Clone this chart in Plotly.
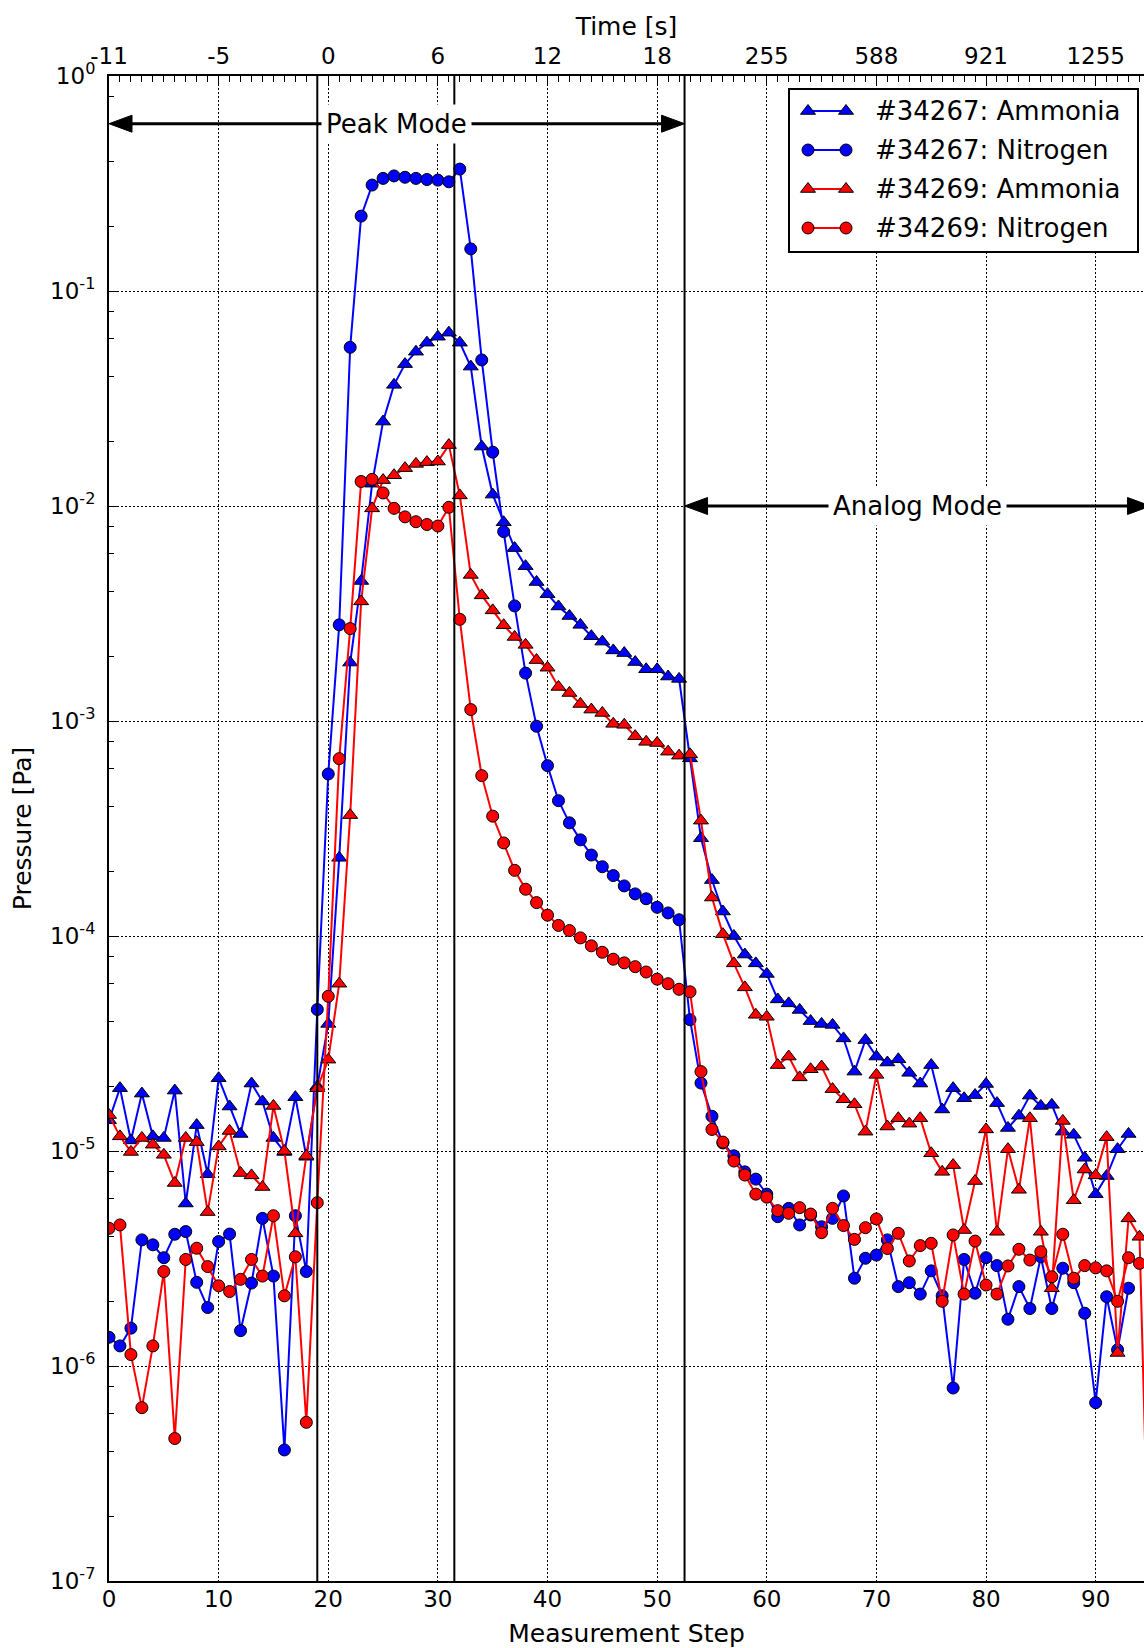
import numpy as np
import plotly.graph_objects as go

# ---------------------------------------------------------------------------
# Data: partial pressures per measurement step (Pa)
# ---------------------------------------------------------------------------
steps_34267 = list(range(0, 94))
steps_34269_nh3 = list(range(0, 96))
steps_34269_n2 = list(range(0, 95))

ammonia_34267 = [
    1.39e-5, 1.96e-5, 1.12e-5, 1.85e-5, 1.17e-5, 1.15e-5, 1.91e-5, 5.7e-6, 1.32e-5, 7.8e-6,
    2.18e-5, 1.61e-5, 1.2e-5, 2.06e-5, 1.70e-5, 1.15e-5, 9.9e-6, 1.78e-5, 9.4e-6, 2.0e-5,
    3.9e-5, 2.31e-4, 1.87e-3, 4.48e-3, 1.27e-2, 2.47e-2, 3.66e-2, 4.57e-2, 5.22e-2, 5.75e-2,
    6.13e-2, 6.40e-2, 5.75e-2, 4.45e-2, 1.89e-2, 1.13e-2, 8.4e-3, 6.37e-3, 5.25e-3, 4.43e-3,
    3.89e-3, 3.41e-3, 3.08e-3, 2.80e-3, 2.48e-3, 2.34e-3, 2.13e-3, 2.07e-3, 1.88e-3, 1.74e-3,
    1.74e-3, 1.61e-3, 1.57e-3, 6.7e-4, 2.85e-4, 1.82e-4, 1.30e-4, 1.0e-4, 8.2e-5, 7.46e-5,
    6.66e-5, 5.07e-5, 4.86e-5, 4.53e-5, 4.02e-5, 3.90e-5, 3.86e-5, 3.34e-5, 2.34e-5, 3.28e-5,
    2.75e-5, 2.58e-5, 2.67e-5, 2.31e-5, 2.06e-5, 2.51e-5, 1.56e-5, 1.96e-5, 1.76e-5, 1.82e-5,
    2.05e-5, 1.67e-5, 1.28e-5, 1.46e-5, 1.81e-5, 1.62e-5, 1.64e-5, 1.23e-5, 1.19e-5, 9.3e-6,
    6.3e-6, 7.65e-6, 1.02e-5, 1.20e-5,
]

nitrogen_34267 = [
    1.36e-6, 1.24e-6, 1.50e-6, 3.86e-6, 3.66e-6, 3.19e-6, 4.10e-6, 4.22e-6, 2.45e-6, 1.87e-6,
    3.79e-6, 4.11e-6, 1.46e-6, 2.43e-6, 4.86e-6, 2.62e-6, 4.07e-7, 5.0e-6, 2.75e-6, 4.55e-5,
    5.67e-4, 2.80e-3, 5.47e-2, 0.223, 0.311, 0.334, 0.343, 0.338, 0.334, 0.330,
    0.328, 0.322, 0.369, 0.157, 4.78e-2, 1.78e-2, 7.6e-3, 3.43e-3, 1.67e-3, 9.45e-4,
    6.2e-4, 4.26e-4, 3.36e-4, 2.80e-4, 2.38e-4, 2.10e-4, 1.91e-4, 1.71e-4, 1.57e-4, 1.49e-4,
    1.36e-4, 1.28e-4, 1.19e-4, 4.08e-5, 2.07e-5, 1.45e-5, 1.09e-5, 9.5e-6, 8.0e-6, 7.4e-6,
    6.3e-6, 4.95e-6, 5.41e-6, 4.53e-6, 5.04e-6, 4.44e-6, 4.86e-6, 6.18e-6, 2.56e-6, 3.17e-6,
    3.28e-6, 3.86e-6, 2.34e-6, 2.44e-6, 2.16e-6, 2.77e-6, 2.12e-6, 7.9e-7, 3.13e-6, 2.18e-6,
    3.19e-6, 2.93e-6, 1.65e-6, 2.34e-6, 1.85e-6, 3.22e-6, 1.85e-6, 2.85e-6, 2.44e-6, 1.76e-6,
    6.75e-7, 2.10e-6, 1.19e-6, 2.30e-6,
]

ammonia_34269 = [
    1.47e-5, 1.17e-5, 9.9e-6, 1.15e-5, 1.07e-5, 9.6e-6, 7.1e-6, 1.15e-5, 1.10e-5, 5.2e-6,
    1.05e-5, 1.24e-5, 7.9e-6, 7.7e-6, 6.8e-6, 1.62e-5, 1.0e-5, 4.14e-6, 9.5e-6, 1.96e-5,
    2.66e-5, 6.0e-5, 3.65e-4, 3.60e-3, 9.75e-3, 1.32e-2, 1.39e-2, 1.50e-2, 1.57e-2, 1.60e-2,
    1.61e-2, 1.92e-2, 1.12e-2, 4.78e-3, 3.84e-3, 3.27e-3, 2.79e-3, 2.46e-3, 2.26e-3, 1.92e-3,
    1.77e-3, 1.44e-3, 1.35e-3, 1.20e-3, 1.13e-3, 1.09e-3, 9.7e-4, 9.6e-4, 8.5e-4, 8.0e-4,
    7.9e-4, 7.2e-4, 6.9e-4, 7.0e-4, 3.44e-4, 1.51e-4, 1.02e-4, 7.46e-5, 5.77e-5, 4.3e-5,
    4.21e-5, 2.51e-5, 2.75e-5, 2.20e-5, 2.40e-5, 2.47e-5, 1.94e-5, 1.74e-5, 1.65e-5, 1.23e-5,
    2.26e-5, 1.30e-5, 1.42e-5, 1.34e-5, 1.42e-5, 9.76e-6, 8.0e-6, 8.6e-6, 4.29e-6, 7.25e-6,
    1.26e-5, 4.21e-6, 1.02e-5, 6.6e-6, 1.42e-5, 4.21e-6, 2.30e-6, 1.38e-5, 5.9e-6, 8.2e-6,
    7.7e-6, 1.16e-5, 1.15e-6, 4.86e-6, 3.99e-6, 5.0e-8,
]

nitrogen_34269 = [
    4.37e-6, 4.53e-6, 1.13e-6, 6.4e-7, 1.24e-6, 2.75e-6, 4.6e-7, 3.13e-6, 3.53e-6, 2.9e-6,
    2.36e-6, 2.22e-6, 2.53e-6, 3.13e-6, 2.62e-6, 5.0e-6, 2.12e-6, 3.22e-6, 5.47e-7, 5.75e-6,
    5.24e-5, 6.68e-4, 2.69e-3, 1.30e-2, 1.33e-2, 1.15e-2, 9.75e-3, 8.9e-3, 8.45e-3, 8.2e-3,
    8.07e-3, 9.86e-3, 2.97e-3, 1.13e-3, 5.57e-4, 3.61e-4, 2.71e-4, 2.02e-4, 1.65e-4, 1.43e-4,
    1.25e-4, 1.12e-4, 1.06e-4, 9.8e-5, 9.0e-5, 8.4e-5, 7.8e-5, 7.5e-5, 7.2e-5, 6.8e-5,
    6.3e-5, 6.0e-5, 5.65e-5, 5.5e-5, 2.34e-5, 1.26e-5, 1.10e-5, 8.98e-6, 7.73e-6, 6.3e-6,
    6.1e-6, 5.28e-6, 5.13e-6, 5.45e-6, 5.09e-6, 4.17e-6, 5.41e-6, 4.5e-6, 3.88e-6, 4.4e-6,
    4.83e-6, 3.52e-6, 4.14e-6, 3.08e-6, 3.63e-6, 3.72e-6, 2.0e-6, 4.07e-6, 2.16e-6, 3.81e-6,
    2.38e-6, 2.16e-6, 2.92e-6, 3.49e-6, 3.11e-6, 3.40e-6, 2.60e-6, 4.1e-6, 2.56e-6, 2.93e-6,
    2.86e-6, 2.77e-6, 2.0e-6, 3.19e-6, 3.0e-6,
]

# Bottom axis: measurement step; top axis: elapsed time (s) at the same steps
step_ticks = [0, 10, 20, 30, 40, 50, 60, 70, 80, 90]
time_labels = ["-11", "-5", "0", "6", "12", "18", "255", "588", "921", "1255"]

# Step positions of the vertical separators
gas_on_step = 19
gas_off_step = 31.5
mode_switch_step = 52.5
analog_arrow_end = 95.0

peak_arrow_level = 0.6      # Pa, height of the "Peak Mode" arrow
analog_arrow_level = 1e-2   # Pa, height of the "Analog Mode" arrow

# ---------------------------------------------------------------------------
# Layout geometry
# ---------------------------------------------------------------------------
W, H = 1144, 1648
M_L, M_R, M_T, M_B = 109, 0, 76, 67
X_MAX = 94.41
Y_LOG_RANGE = (-7, 0)
FONT = "DejaVu Sans"

plot_w = W - M_L - M_R
plot_h = H - M_T - M_B
x_per_px = X_MAX / plot_w


def paper_x(px):
    return (px - M_L) / plot_w


def paper_y(py):
    return (H - M_B - py) / plot_h


def step_at(px):
    return (px - M_L) * x_per_px


def pressure_at(py):
    frac = paper_y(py)
    return 10.0 ** (Y_LOG_RANGE[0] + frac * (Y_LOG_RANGE[1] - Y_LOG_RANGE[0]))


def log_paper(v):
    return (np.log10(v) - Y_LOG_RANGE[0]) / (Y_LOG_RANGE[1] - Y_LOG_RANGE[0])


series = [
    (steps_34267, ammonia_34267, "#34267: Ammonia", "#0000ff", "triangle-up"),
    (steps_34267, nitrogen_34267, "#34267: Nitrogen", "#0000ff", "circle"),
    (steps_34269_nh3, ammonia_34269, "#34269: Ammonia", "#ff0000", "triangle-up"),
    (steps_34269_n2, nitrogen_34269, "#34269: Nitrogen", "#ff0000", "circle"),
]

MARKER_SIZE = {"circle": 12, "triangle-up": 13}

fig = go.Figure()

for xs, ys, name, color, symbol in series:
    fig.add_trace(go.Scatter(
        x=xs, y=ys, name=name, mode="lines+markers",
        line=dict(color=color, width=2),
        marker=dict(symbol=symbol, size=MARKER_SIZE[symbol], color=color,
                    line=dict(color="black", width=1)),
        showlegend=False, cliponaxis=True,
    ))

# Empty trace so the top (time) axis is rendered
fig.add_trace(go.Scatter(x=[], y=[], xaxis="x2", showlegend=False, hoverinfo="skip"))

# ---------------------------------------------------------------------------
# Legend: white box between grid and traces, samples on an overlay axis pair
# whose 0..1 range spans the plot area
# ---------------------------------------------------------------------------
LEGEND_BOX_PX = (789, 89, 1138, 252)
LEGEND_ROW_PX = [111, 150, 189, 228]
LEGEND_SAMPLE_PX = (808, 846)
LEGEND_TEXT_PX = 873

fig.add_shape(type="rect", xref="x", yref="y",
              x0=step_at(LEGEND_BOX_PX[0]), x1=step_at(LEGEND_BOX_PX[2]),
              y0=pressure_at(LEGEND_BOX_PX[3]), y1=pressure_at(LEGEND_BOX_PX[1]),
              fillcolor="white", line=dict(color="black", width=2), layer="between")

for (xs, ys, name, color, symbol), row in zip(series, LEGEND_ROW_PX):
    fig.add_trace(go.Scatter(
        x=[paper_x(LEGEND_SAMPLE_PX[0]), paper_x(LEGEND_SAMPLE_PX[1])],
        y=[paper_y(row), paper_y(row)],
        xaxis="x3", yaxis="y3", mode="lines+markers",
        line=dict(color=color, width=2),
        marker=dict(symbol=symbol, size=MARKER_SIZE[symbol], color=color,
                    line=dict(color="black", width=1)),
        showlegend=False, hoverinfo="skip", cliponaxis=False,
    ))
    fig.add_annotation(xref="paper", yref="paper", x=paper_x(LEGEND_TEXT_PX), y=paper_y(row),
                       xanchor="left", yanchor="middle", text=name, showarrow=False,
                       font=dict(family=FONT, size=26, color="black"))

# ---------------------------------------------------------------------------
# Vertical separators
# ---------------------------------------------------------------------------
for s in (gas_on_step, gas_off_step, mode_switch_step):
    fig.add_shape(type="line", xref="x", yref="paper", x0=s, x1=s, y0=0, y1=1,
                  line=dict(color="black", width=2), layer="above")

# ---------------------------------------------------------------------------
# Mode arrows
# ---------------------------------------------------------------------------
HEAD_LEN_PX = 23
HEAD_HALF_PX = 8.5
head_len = HEAD_LEN_PX * x_per_px
head_half = HEAD_HALF_PX / plot_h


def double_arrow(x0, x1, level, label, text_x):
    yp = log_paper(level)
    fig.add_shape(type="line", xref="x", yref="paper", x0=x0 + head_len * 0.5,
                  x1=x1 - head_len * 0.5, y0=yp, y1=yp,
                  line=dict(color="black", width=3), layer="above")
    for tip, base in ((x0, x0 + head_len), (x1, x1 - head_len)):
        fig.add_shape(type="path", xref="x", yref="paper",
                      path=f"M {tip},{yp} L {base},{yp + head_half} L {base},{yp - head_half} Z",
                      fillcolor="black", line=dict(color="black", width=1), layer="above")
    fig.add_annotation(xref="x", yref="paper", x=text_x, y=yp, text=label,
                       xanchor="center", yanchor="middle",
                       showarrow=False, bgcolor="white", borderpad=4,
                       font=dict(family=FONT, size=26, color="black"))


double_arrow(0, mode_switch_step, peak_arrow_level, "Peak Mode", mode_switch_step / 2)
double_arrow(mode_switch_step, analog_arrow_end, analog_arrow_level, "Analog Mode",
             (mode_switch_step + analog_arrow_end) / 2)

# ---------------------------------------------------------------------------
# Axes
# ---------------------------------------------------------------------------
decades = list(range(Y_LOG_RANGE[0], Y_LOG_RANGE[1] + 1))
y_tickvals = [10.0 ** d for d in decades]
y_ticktext = [f"10<sup>{d}</sup>" for d in decades]
y_minor = [m * 10.0 ** d for d in decades[:-1] for m in (2, 4, 6, 8)]

grid_style = dict(showgrid=True, gridcolor="black", gridwidth=1, griddash="1.5px,2.5px")
tick_font = dict(family=FONT, size=23, color="black")
title_font = dict(family=FONT, size=25, color="black")

fig.update_layout(
    width=W, height=H,
    margin=dict(l=M_L, r=M_R, t=M_T, b=M_B, autoexpand=False),
    paper_bgcolor="white", plot_bgcolor="white",
    font=dict(family=FONT, color="black"),
    showlegend=False,
    xaxis=dict(
        range=[0, X_MAX], tickmode="array", tickvals=step_ticks,
        ticks="", showline=True, linecolor="black", linewidth=2, mirror=False,
        zeroline=False, tickfont=tick_font, ticklabelstandoff=-4,
        title=dict(text="Measurement Step", font=title_font, standoff=20),
        automargin=False, **grid_style,
    ),
    xaxis2=dict(
        overlaying="x", side="top", anchor="y", range=[0, X_MAX],
        tickmode="array", tickvals=step_ticks, ticktext=time_labels,
        ticks="inside", ticklen=10, tickwidth=1, tickcolor="black",
        minor=dict(tickmode="array", tickvals=list(range(0, 95)), ticks="inside",
                   ticklen=6, tickwidth=1, tickcolor="black", showgrid=False),
        showline=True, linecolor="black", linewidth=2, showgrid=False, zeroline=False,
        tickfont=tick_font, ticklabelstandoff=1,
        title=dict(text="Time [s]", font=title_font, standoff=0),
        automargin=False,
    ),
    xaxis3=dict(overlaying="x", range=[0, 1], visible=False, fixedrange=True),
    yaxis=dict(
        type="log", range=list(Y_LOG_RANGE), tickmode="array",
        tickvals=y_tickvals, ticktext=y_ticktext,
        ticks="inside", ticklen=10, tickwidth=1, tickcolor="black",
        minor=dict(tickmode="array", tickvals=y_minor, ticks="inside", ticklen=5,
                   tickwidth=1, tickcolor="black", showgrid=False),
        showline=True, linecolor="black", linewidth=2, mirror=False, zeroline=False,
        tickfont=tick_font, ticklabelstandoff=7,
        title=dict(text="Pressure [Pa]", font=title_font, standoff=11),
        automargin=False, **grid_style,
    ),
    yaxis3=dict(overlaying="y", range=[0, 1], visible=False, fixedrange=True),
)

fig.write_html("out.html")
